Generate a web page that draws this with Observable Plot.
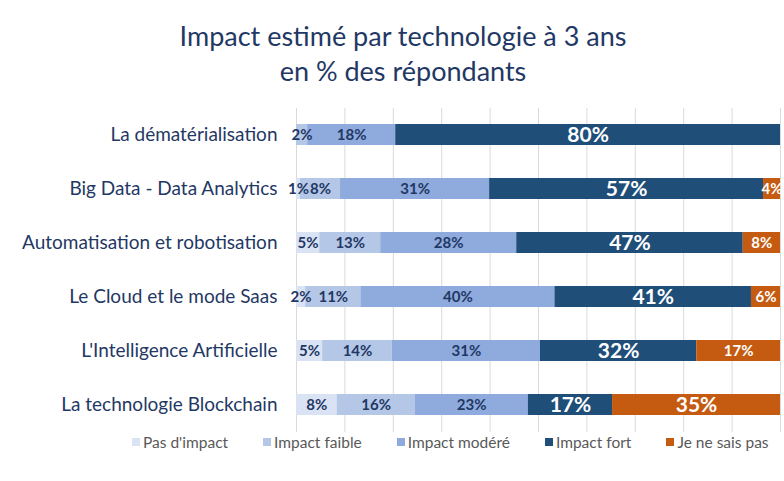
<!DOCTYPE html>
<html><head><meta charset="utf-8">
<script src="https://cdn.jsdelivr.net/npm/d3@7"></script>
<script src="https://cdn.jsdelivr.net/npm/@observablehq/plot@0.6"></script>
<style>
body{margin:0;background:#fff;font-family:Lato,"Open Sans",sans-serif;width:784px;height:481px;overflow:hidden;}
#title{box-sizing:border-box;height:90px;padding-top:18px;padding-left:22px;text-align:center;font-size:27px;line-height:35px;color:#1F3864;}
#chart svg{display:block;}
#legend{display:flex;align-items:center;gap:35px;padding-left:132px;height:16px;margin-top:0;font-size:15.5px;color:#595959;}
.item{display:flex;align-items:center;white-space:nowrap;}
.sw{width:8px;height:8px;margin-right:3px;display:inline-block;}
</style></head><body>
<div id="title">Impact estimé par technologie à 3 ans<br>en % des répondants</div>
<div id="chart"></div>
<div id="legend"></div>
<script>
const categories = ["La dématérialisation","Big Data - Data Analytics","Automatisation et robotisation","Le Cloud et le mode Saas","L'Intelligence Artificielle","La technologie Blockchain"];
const series = ["Pas d'impact","Impact faible","Impact modéré","Impact fort","Je ne sais pas"];
const pasImpact    = [0,    0.8,  4.8,  1.9,  5.4,  8.4];
const impactFaible = [2.3,  8.3,  12.6, 11.4, 14.4, 16.1];
const impactModere = [18.2, 30.8, 28.1, 40.1, 30.6, 23.4];
const impactFort   = [79.5, 56.6, 46.8, 40.6, 32.3, 17.4];
const neSaisPas    = [0,    3.5,  7.7,  6.0,  17.3, 34.7];
const colors = ["#DAE3F3","#B4C7E7","#8FAADC","#1F4E79","#C55A11"];
const xTicks = [0,10,20,30,40,50,60,70,80,90,100];

const seriesValues = [pasImpact, impactFaible, impactModere, impactFort, neSaisPas];
const data = [];
categories.forEach((c, i) => seriesValues.forEach((arr, j) => data.push({cat: c, series: series[j], value: arr[i]})));

const dark = s => s === "Impact fort" || s === "Je ne sais pas";
const big = d => d.series === "Impact fort" || (d.series === "Je ne sais pas" && d.value > 30);

const chart = Plot.plot({
  width: 784, height: 344,
  marginLeft: 296, marginRight: 4, marginTop: 18, marginBottom: 2,
  x: {domain: [0, 100], axis: null},
  y: {domain: categories, paddingInner: 0.61, paddingOuter: 0.305, axis: null},
  color: {domain: series, range: colors},
  style: {fontFamily: "Lato, 'Open Sans', sans-serif", background: "white"},
  marks: [
    Plot.gridX(xTicks, {stroke: "#D9D9D9", strokeOpacity: 1, strokeWidth: 1}),
    Plot.barX(data, {x: "value", y: "cat", fill: "series", z: "series"}),
    Plot.text(data, Plot.stackX({
      x: "value", y: "cat", z: "series",
      filter: d => d.value > 0,
      text: d => Math.round(d.value) + "%",
      fill: d => dark(d.series) ? "white" : "#1F3864",
      fontSize: d => big(d) ? 21 : 15,
      fontWeight: "bold"
    })),
    Plot.axisY({tickSize: 0, tickPadding: 19, fontSize: 19, color: "#1F3864", label: null})
  ]
});
document.getElementById("chart").appendChild(chart);

const legend = d3.select("#legend");
series.forEach((s, i) => {
  const it = legend.append("div").attr("class", "item");
  it.append("span").attr("class", "sw").style("background", colors[i]);
  it.append("span").text(s);
});
</script>
</body></html>
